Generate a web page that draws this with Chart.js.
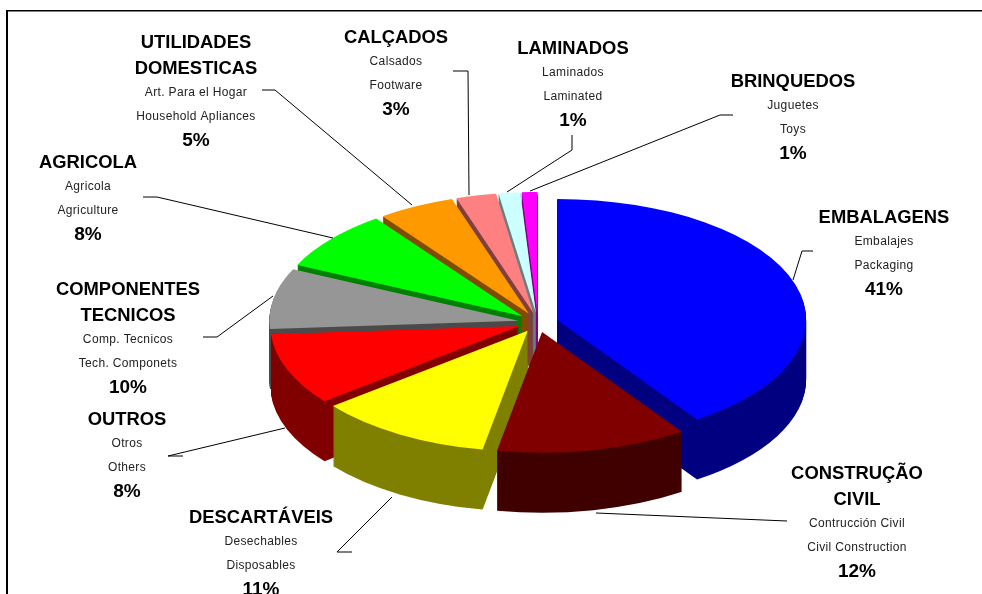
<!DOCTYPE html>
<html>
<head>
<meta charset="utf-8">
<style>html,body{margin:0;padding:0;background:#fff}canvas{display:block}</style>
<script src="https://cdn.jsdelivr.net/npm/chart.js@4"></script>
</head>
<body>
<canvas id="c" width="982" height="594"></canvas>
<script>
// Slices clockwise from 12 o'clock
const categories = ['EMBALAGENS','CONSTRUÇÃO CIVIL','DESCARTÁVEIS','COMPONENTES TECNICOS','OUTROS','AGRICOLA','UTILIDADES DOMESTICAS','CALÇADOS','LAMINADOS','BRINQUEDOS'];
const shares = [40.5,12.4,11.4,9.6,8.1,8,5,2.6,1.4,1];
const topColors = ['#0000ff','#800000','#ffff00','#ff0000','#969696','#00ff00','#ff9900','#ff8080','#ccffff','#ff00ff'];
const sideColors = ['#000080','#400000','#808000','#800000','#4b4b4b','#008000','#804d00','#804040','#668080','#800080'];

// Label texts
const headings = [['EMBALAGENS'],['CONSTRUÇÃO','CIVIL'],['DESCARTÁVEIS'],['COMPONENTES','TECNICOS'],['OUTROS'],['AGRICOLA'],['UTILIDADES','DOMESTICAS'],['CALÇADOS'],['LAMINADOS'],['BRINQUEDOS']];
const spanish = ['Embalajes','Contrucción Civil','Desechables','Comp. Tecnicos','Otros','Agricola','Art. Para el Hogar','Calsados','Laminados','Juguetes'];
const english = ['Packaging','Civil Construction','Disposables','Tech. Componets','Others','Agriculture','Household Apliances','Footware','Laminated','Toys'];

// Layout (not data)
const labelX = [884,857,261,128,127,88,196,396,573,793];
const labelY = [218,474,518,290,420,163,43,38,49,82];
const leaders = [
  [[813,251],[802,251],[793,280]],
  [[787,521],[596,513]],
  [[352,552],[337,552],[392,497]],
  [[203,337],[217,337],[273,296]],
  [[183,456],[168,456],[285,428]],
  [[143,197],[157,197],[333,238]],
  [[262,90],[275,90],[412,205]],
  [[453,71],[468,71],[469,195]],
  [[572,135],[572,150],[507,192]],
  [[733,115],[720,115],[530,191]]
];
const CX = 538, CY = 322.5, SQUASH = 0.485, DEPTH = 60, EXPLODE = 20, RADIUS = 249;
const FONT = '"Liberation Sans", Arial, sans-serif';

function pieTransform(ctx, el, dy) {
  const mid = (el.startAngle + el.endAngle) / 2;
  ctx.translate(CX, CY + (dy || 0));
  ctx.scale(1, SQUASH);
  ctx.translate(Math.cos(mid) * EXPLODE, Math.sin(mid) * EXPLODE);
  ctx.translate(-el.x, -el.y);
}

const pie3d = {
  id: 'pie3d',
  beforeDatasetsDraw(chart) {
    const ctx = chart.ctx;
    const arcs = chart.getDatasetMeta(0).data;
    const order = arcs.map((el, i) => i).sort((a, b) => {
      const m = e => Math.sin((e.startAngle + e.endAngle) / 2);
      return m(arcs[a]) - m(arcs[b]);
    });
    // extruded walls, back to front
    order.forEach(i => {
      const el = arcs[i];
      for (let d = DEPTH; d >= 1; d--) {
        ctx.save();
        pieTransform(ctx, el, d);
        ctx.beginPath();
        ctx.moveTo(el.x, el.y);
        ctx.arc(el.x, el.y, el.outerRadius, el.startAngle, el.endAngle);
        ctx.closePath();
        ctx.fillStyle = sideColors[i];
        ctx.fill();
        ctx.restore();
      }
    });
    // upper faces, drawn by the library's own arc elements
    order.forEach(i => {
      ctx.save();
      pieTransform(ctx, arcs[i], 0);
      arcs[i].draw(ctx);
      ctx.restore();
    });
    return false;
  },
  beforeDatasetDraw() { return false; },
  afterDraw(chart) {
    const ctx = chart.ctx;
    ctx.save();
    // frame
    ctx.fillStyle = '#000';
    ctx.fillRect(6, 10, 982, 1.5);
    ctx.fillRect(6, 10, 2, 594);
    // leaders
    ctx.strokeStyle = '#000';
    ctx.lineWidth = 1;
    leaders.forEach(pts => {
      ctx.beginPath();
      pts.forEach((p, k) => k ? ctx.lineTo(p[0], p[1]) : ctx.moveTo(p[0], p[1]));
      ctx.stroke();
    });
    // labels
    ctx.textAlign = 'center';
    ctx.textBaseline = 'middle';
    ctx.fillStyle = '#000';
    categories.forEach((c, i) => {
      let y = labelY[i];
      const x = labelX[i];
      ctx.letterSpacing = '0px';
      ctx.font = 'bold 18.4px ' + FONT;
      headings[i].forEach((t, k) => { ctx.fillText(t, x, y + k * 26); });
      y += (headings[i].length - 1) * 26 + 24;
      ctx.fillStyle = '#222';
      ctx.letterSpacing = '0.35px';
      ctx.font = '12px ' + FONT;
      ctx.fillText(spanish[i], x, y);
      ctx.fillText(english[i], x, y + 24);
      ctx.fillStyle = '#000';
      ctx.letterSpacing = '0px';
      ctx.font = 'bold 19px ' + FONT;
      ctx.fillText(Math.round(shares[i]) + '%', x, y + 48);
    });
    ctx.restore();
  }
};

new Chart(document.getElementById('c'), {
  type: 'pie',
  data: {
    labels: categories,
    datasets: [{ data: shares, backgroundColor: topColors, borderWidth: 0, radius: RADIUS }]
  },
  options: {
    responsive: false,
    animation: false,
    events: [],
    radius: RADIUS,
    rotation: 0,
    layout: { padding: 0 },
    plugins: { legend: { display: false }, tooltip: { enabled: false }, title: { display: false } }
  },
  plugins: [pie3d]
});
</script>
</body>
</html>
